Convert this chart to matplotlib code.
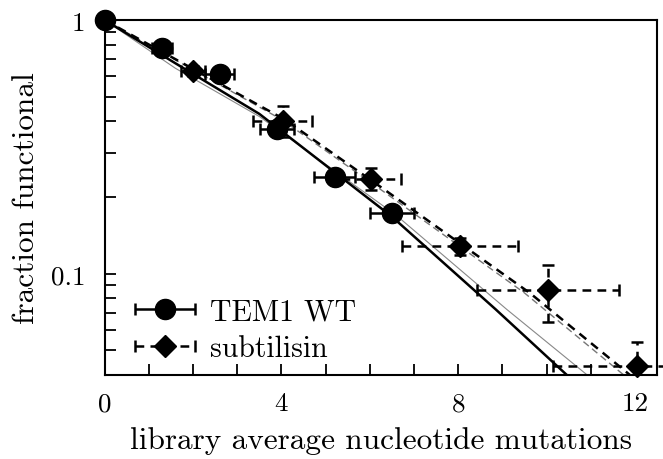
import numpy as np
import matplotlib
matplotlib.use('Agg')
import matplotlib.pyplot as plt
from matplotlib.ticker import FixedLocator, NullFormatter
from matplotlib.legend_handler import HandlerErrorbar

plt.rcParams['font.family'] = ['cmr10', 'DejaVu Serif']
plt.rcParams['mathtext.fontset'] = 'cm'
plt.rcParams['axes.formatter.use_mathtext'] = True

# TEM1 WT data
tem_x = [0.0, 1.29, 2.6, 3.9, 5.2, 6.5]
tem_y = [1.0, 0.775, 0.612, 0.371, 0.240, 0.173]
tem_xerr = [0.0, 0.23, 0.33, 0.38, 0.47, 0.5]

# subtilisin data
sub_x = [2.0, 4.03, 6.02, 8.04, 10.03, 12.04]
sub_y = [0.629, 0.399, 0.237, 0.129, 0.0865, 0.0433]
sub_xerr = [0.28, 0.67, 0.68, 1.31, 1.6, 1.9]
sub_ylo = [0.60, 0.345, 0.214, 0.119, 0.0646, 0.035]
sub_yhi = [0.66, 0.46, 0.262, 0.139, 0.108, 0.0538]

# model curves
tem_fit_x = [0, 1.6, 3.5, 6.5, 8.85, 10.53]
tem_fit_y = [1, 0.676, 0.427, 0.168, 0.0724, 0.0389]
tem_fit2_x = [0, 1.6, 3.5, 6.6, 9.1, 11.0]
tem_fit2_y = [1, 0.646, 0.417, 0.170, 0.0724, 0.0389]
sub_fit_x = [0, 4.07, 6.23, 9.62, 11.89]
sub_fit_y = [1, 0.406, 0.221, 0.0841, 0.0399]
sub_fit2_x = [0, 4.0, 6.15, 9.5, 11.75]
sub_fit2_y = [1, 0.406, 0.221, 0.0841, 0.0399]

fig = plt.figure(figsize=(6.63, 4.6), dpi=100)
ax = fig.add_axes([0.158, 0.183, 0.833, 0.771])
ax.set_yscale('log')

ax.plot(tem_fit2_x, tem_fit2_y, color='#888888', lw=0.8)
ax.plot(sub_fit2_x, sub_fit2_y, color='#777777', lw=1.0, ls=(0, (5, 3)))
ax.plot(tem_fit_x, tem_fit_y, color='black', lw=1.8)
ax.plot(sub_fit_x, sub_fit_y, color='black', lw=1.8, ls=(0, (3.5, 2.5)))

dash = (0, (3.5, 2.5))
sub_y = np.array(sub_y)
yerr = [sub_y - np.array(sub_ylo), np.array(sub_yhi) - sub_y]
ev = ax.errorbar(sub_x, sub_y, yerr=yerr, fmt='none', ecolor='black',
                 elinewidth=1.8, capsize=4, capthick=1.8)
ev.lines[2][0].set_linestyle(dash)
es = ax.errorbar(sub_x, sub_y, xerr=sub_xerr, fmt='D', color='black', ms=11,
                 elinewidth=1.8, capsize=4, capthick=1.8, label='subtilisin',
                 clip_on=False)
es.lines[2][0].set_linestyle(dash)
for c in es.lines[1]:
    c.set_clip_on(True)

et = ax.errorbar(tem_x, tem_y, xerr=tem_xerr, fmt='o', color='black', ms=14.5,
                 elinewidth=1.8, capsize=4, capthick=1.8, label='TEM1 WT',
                 clip_on=False)

ax.set_xlim(0, 12.5)
ax.set_ylim(0.04, 1)
ax.set_xticks([0, 4, 8, 12])
ax.set_xticklabels(['0', '4', '8', '12'])
ax.xaxis.set_minor_locator(FixedLocator(range(0, 13)))
ax.set_yticks([0.1, 1])
ax.set_yticklabels(['0.1', '1'])
ax.yaxis.set_minor_formatter(NullFormatter())
ax.tick_params(which='both', direction='in', top=False, right=False,
               labelsize=19.5, width=1.3)
ax.tick_params(which='major', length=8)
ax.tick_params(which='minor', length=8)
ax.tick_params(axis='x', which='major', pad=12)
ax.tick_params(axis='y', which='major', pad=14)
for s in ax.spines.values():
    s.set_linewidth(1.5)

ax.set_xlabel('library average nucleotide mutations', fontsize=22.5, labelpad=8)
ax.set_ylabel('fraction functional', fontsize=22.5, labelpad=8)

hm = {et: HandlerErrorbar(xerr_size=1.0), es: HandlerErrorbar(xerr_size=1.0)}
ax.legend(handles=[et, es], loc='lower left', frameon=False, fontsize=21.5,
          handlelength=2.1, handletextpad=0.45, handler_map=hm,
          bbox_to_anchor=(0.004, -0.04), labelspacing=0.32)

fig.savefig('out.png', dpi=100)
